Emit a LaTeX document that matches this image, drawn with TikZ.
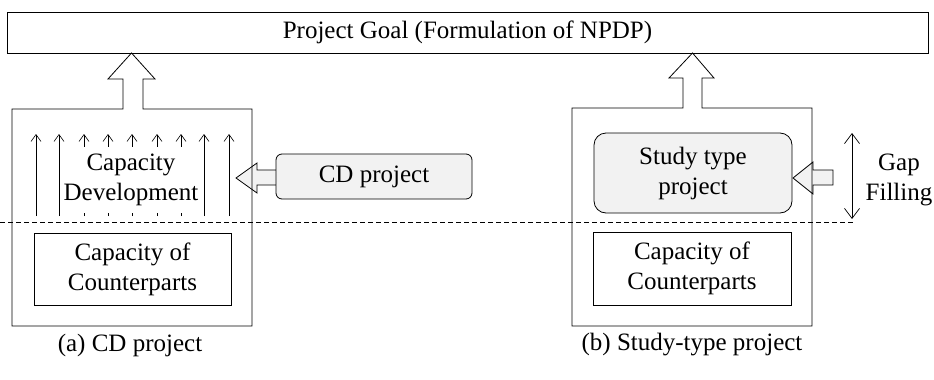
\documentclass[tikz,border=0pt]{standalone}
\usepackage{fontspec}
\setmainfont{Liberation Serif}
\usetikzlibrary{arrows.meta}
\definecolor{boxgray}{HTML}{F2F2F2}
\tikzset{
  every node/.style={font=\fontsize{25}{30}\selectfont, align=center},
  ln/.style={line width=0.8pt},
  plain/.style={ln, draw, inner sep=0pt},
  softbox/.style={ln, draw, fill=boxgray, inner sep=0pt},
  thin arrow/.style={line width=0.6pt, -{Straight Barb[length=7pt,width=10pt]}},
  gap arrow/.style={line width=0.7pt, {Straight Barb[length=10pt,width=15pt]}-{Straight Barb[length=10pt,width=15pt]}},
  blockarrow/.style={ln, draw, fill=boxgray, line join=miter},
}
\begin{document}
\begin{tikzpicture}[x=1pt,y=-1pt]
\useasboundingbox (0,0) rectangle (934,380);

% top goal box
\node[plain, minimum width=921pt, minimum height=41pt] (goal) at (467.5,32.5) {Project Goal (Formulation of NPDP)};

% ---------- left panel ----------
% small upward arrows
\foreach \x/\n in {36/a1,59/a2,84/a3,108/a4,132/a5,157/a6,181/a7,204/a8,229/a9}{
  \coordinate (\n s) at (\x,216);
  \coordinate (\n e) at (\x,134);
  \draw[thin arrow] (\n s) -- (\n e);
}
\node[fill=white, inner xsep=1pt, inner ysep=0pt, minimum height=66pt] (cdtext) at (131,180) {Capacity\\Development};

% block arrow into left box
\draw[blockarrow] (276,170) -- (257,170) -- (257,163) -- (236,178) -- (257,193) -- (257,185) -- (276,185);
\node[softbox, rounded corners=6pt, minimum width=196pt, minimum height=45pt] (cdproj) at (374,176.5) {CD project};

% left outer box with up arrow
\draw[ln, line join=miter] (123,109) -- (12,109) -- (12,326) -- (252,326) -- (252,109) -- (143,109) -- (143,79) -- (155,79) -- (131.5,53) -- (108,79) -- (123,79) -- cycle;

\node[plain, minimum width=197pt, minimum height=72pt] (capL) at (132.5,269) {Capacity of\\Counterparts};

% ---------- right panel ----------
\draw[blockarrow] (833,170) -- (813,170) -- (813,162) -- (793,178) -- (813,194) -- (813,185) -- (833,185) -- cycle;
\node[softbox, rounded corners=12pt, minimum width=198pt, minimum height=80pt] (study) at (693,173) {Study type\\project};

\draw[ln, line join=miter] (683,108) -- (572,108) -- (572,326) -- (812,326) -- (812,108) -- (702,108) -- (702,78) -- (714,78) -- (692.5,53) -- (669,78) -- (683,78) -- cycle;

\node[plain, minimum width=198pt, minimum height=73pt] (capR) at (692,268.5) {Capacity of\\Counterparts};

% gap filling
\coordinate (gtop) at (852,133);
\coordinate (gbot) at (852,219);
\draw[gap arrow] (gtop) -- (gbot);
\node (gap) at (899,180) {Gap\\Filling};

% dashed line
\coordinate (dl) at (0,222.5);
\coordinate (dr) at (854,222.5);
\draw[line width=0.6pt, dash pattern=on 5pt off 3pt] (dl) -- (dr);

% captions
\node (capa) at (130,345) {(a) CD project};
\node (capb) at (692,345) {(b) Study-type project};
\end{tikzpicture}
\end{document}
